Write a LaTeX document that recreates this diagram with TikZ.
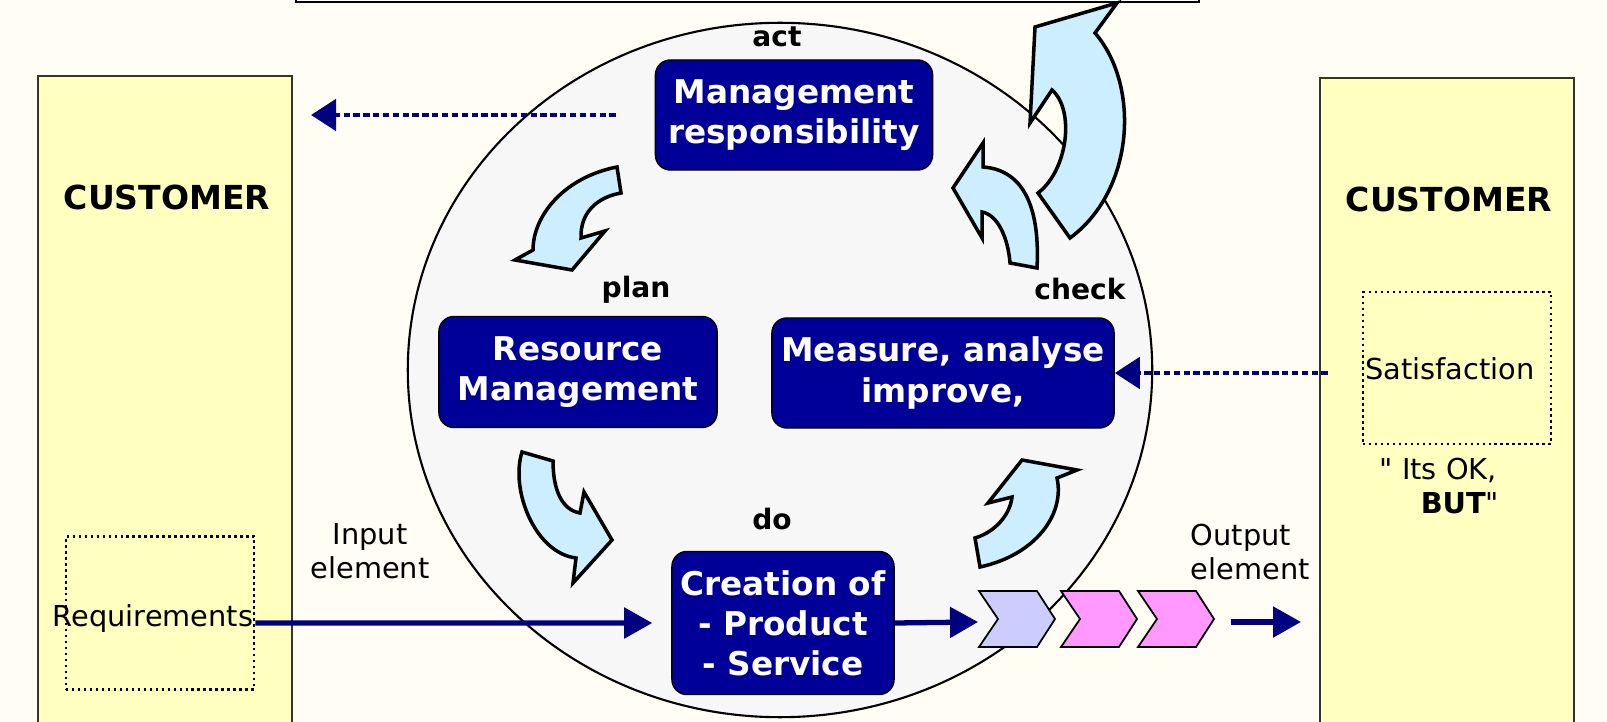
\documentclass[tikz,border=0pt]{standalone}
\usepackage{fontspec}
\setmainfont{DejaVu Sans}[Ligatures=TeXOff]
\usetikzlibrary{arrows.meta, positioning, calc}
\usepackage{xcolor}
\definecolor{boxnavy}{HTML}{000099}
\definecolor{linenavy}{HTML}{000080}
\definecolor{custyellow}{HTML}{FFFFC0}
\definecolor{ringgray}{HTML}{F7F7F7}
\definecolor{turnblue}{HTML}{CCEEFF}
\definecolor{chevlav}{HTML}{CCCCFF}
\definecolor{chevpink}{HTML}{FF99FF}
\definecolor{paper}{HTML}{FFFDF4}
\tikzstyle{pnode} = [%
  rectangle,
  rounded corners=1.5mm,
  draw=black,
  fill=boxnavy,
  text=white,
  align=center,
  inner sep=1pt,
  font=\fontsize{9.3}{11.4}\selectfont\bfseries
]
\tikzstyle{custbox} = [rectangle, draw=black!80, fill=custyellow, line width=0.5pt]
\tikzstyle{notebox} = [rectangle, draw=black, densely dotted, line width=0.7pt]
\tikzstyle{turn} = [draw=black, fill=turnblue, line width=1pt]

\begin{document}
\begin{tikzpicture}[%
  x=0.01cm, y=-0.01cm,
  every node/.style={%
    font=\fontsize{8.2}{9.7}\selectfont
  },
  flow/.style={draw=linenavy, line width=1.5pt, -{Triangle[length=2.8mm,width=3mm]}},
  fback/.style={draw=linenavy, line width=1.4pt, dash pattern=on 1.8pt off 1pt,
    -{Triangle[length=2.5mm,width=3.1mm]}},
  phase/.style={anchor=base, font=\fontsize{8}{9.7}\selectfont\bfseries},
  custlbl/.style={anchor=base, font=\fontsize{9.4}{11}\selectfont\bfseries}
]
  \useasboundingbox (0,0) rectangle (1607,722);
  \clip (0,0) rectangle (1607,722);
  \fill[paper] (0,0) rectangle (1607,722);

  % Frame and cycle
  \draw[fill=white, line width=0.8pt] (296,-20) rectangle (1199,2);
  \draw[fill=ringgray, line width=0.6pt] (780,370) ellipse [x radius=3.72cm, y radius=3.47cm];

  % Customers
  \node[custbox, anchor=north west, minimum width=2.54cm, minimum height=6.7cm] (custL) at (37,75) {};
  \node[custbox, anchor=north west, minimum width=2.54cm, minimum height=6.7cm] (custR) at (1319,77) {};
  \node[custlbl] (custLlbl) at (167,210) {CUSTOMER};
  \node[custlbl] (custRlbl) at (1449,212) {CUSTOMER};
  \node[notebox, minimum width=1.88cm, minimum height=1.53cm] (req) at (160,613) {};
  \node[notebox, minimum width=1.88cm, minimum height=1.52cm] (sat) at (1457,368) {};
  \node[anchor=base] (reqlbl) at (153,626) {Requirements};
  \node[anchor=base] (satlbl) at (1450,380) {Satisfaction};
  \node[anchor=north west, align=left, inner sep=0pt] (oklbl) at (1379,457) {" Its OK,\\\hspace*{0.41cm}\textbf{BUT}"};

  % Process nodes
  \node[pnode, minimum width=2.77cm, minimum height=1.10cm] (mgmt) at (794,115) {Management\\responsibility};
  \node[pnode, minimum width=2.78cm, minimum height=1.11cm] (res) at (578,372) {Resource\\Management};
  \node[pnode, minimum width=3.42cm, minimum height=1.10cm] (meas) at (943,373) {Measure, analyse\\improve,};
  \node[pnode, minimum width=2.22cm, minimum height=1.43cm] (crtn) at (783,623) {Creation of\\- Product\\- Service};

  \node[phase] (actlbl) at (777,47) {act};
  \node[phase] (planlbl) at (636,298) {plan};
  \node[phase] (checklbl) at (1080,300) {check};
  \node[phase] (dolbl) at (772,529) {do};

  \node[anchor=north, align=center, inner sep=0pt] (inlbl) at (370,523) {Input\\element};
  \node[anchor=north west, align=left, inner sep=0pt] (outlbl) at (1190,523) {Output\\element};

  % Turning arrows
  \draw[turn] (617,167) -- (621,193) .. controls (598,197) and (580,212) .. (581,238) -- (605,231)
    -- (572,270) -- (515,260) -- (533,250) .. controls (533,215) and (565,177) .. (617,167) -- cycle;
  \draw[turn] (522,452) -- (553,461) .. controls (553,490) and (562,510) .. (580,513) -- (584,492)
    -- (612,540) -- (573,583) -- (576,558) .. controls (535,553) and (510,490) .. (522,452) -- cycle;
  \draw[turn] (980,567) -- (975,538) .. controls (995,532) and (1010,515) .. (1012,497) -- (988,503)
    -- (1022,460) -- (1077,470) -- (1057,478) .. controls (1065,515) and (1035,555) .. (980,567) -- cycle;
  \draw[turn] (1037,268) -- (1010,263) .. controls (1008,238) and (998,215) .. (982,212) -- (982,238)
    -- (953,188) -- (983,143) -- (983,167) .. controls (1025,170) and (1040,210) .. (1037,268) -- cycle;
  \draw[turn] (1070,238) -- (1038,193) .. controls (1068,170) and (1075,110) .. (1052,90) -- (1030,123)
    -- (1035,27) -- (1117,3) -- (1095,33) .. controls (1140,85) and (1135,190) .. (1070,238) -- cycle;

  % Output chevrons
  \foreach \xa/\col in {979/chevlav, 1061/chevpink, 1138/chevpink} {
    \draw[fill=\col, line width=0.5pt] (\xa,591) -- ++(58,0) -- ++(18,28) -- ++(-18,28) -- ++(-58,0) -- ++(19,-28) -- cycle;
  }

  % Flow edges
  \coordinate (chvA) at (978,622);
  \coordinate (outA) at (1231,622);
  \coordinate (outB) at (1301,622);
  \coordinate (fbL) at (311,115);
  \draw[flow] ([yshift=-0.1cm]req.east) -- ([xshift=-0.19cm]crtn.west);
  \draw[flow] (crtn.east) -- (chvA);
  \draw[flow] (outA) -- (outB);

  % Feedback edges
  \draw[fback] ([xshift=-0.39cm]mgmt.west) -- (fbL);
  \draw[fback] ($(sat.west |- meas.east)+(-34,0)$) -- (meas.east);

\end{tikzpicture}
\end{document}
